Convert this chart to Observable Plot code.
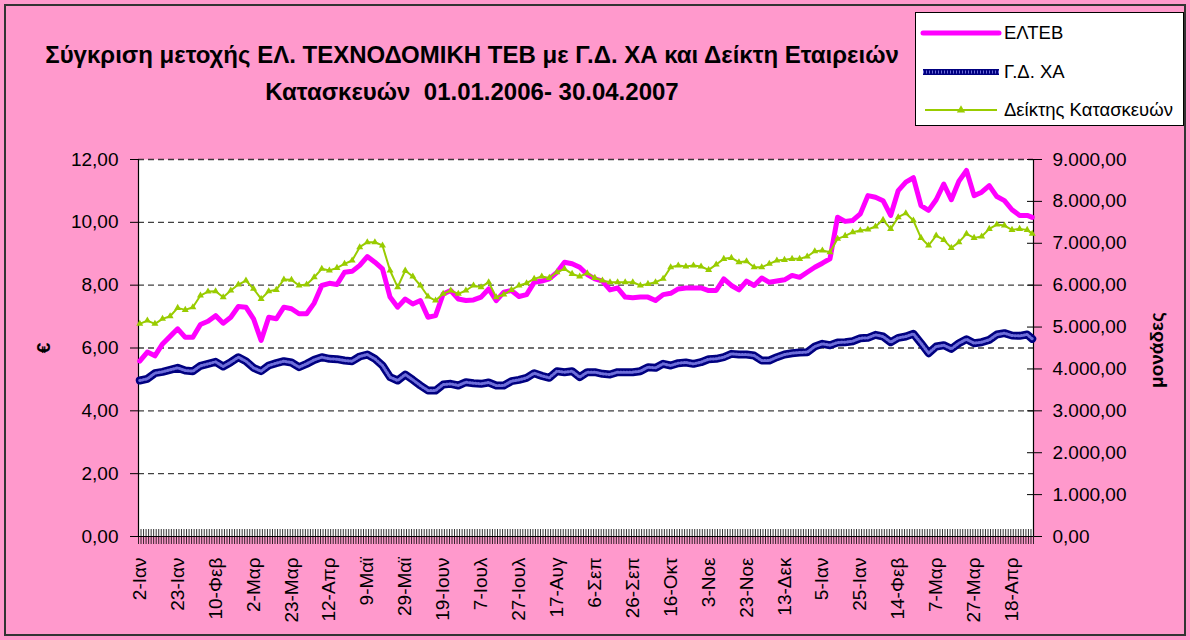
<!DOCTYPE html>
<html><head><meta charset="utf-8">
<script src="https://cdn.jsdelivr.net/npm/d3@7"></script>
<script src="https://cdn.jsdelivr.net/npm/@observablehq/plot@0.6"></script>
<style>
html,body{margin:0;padding:0;background:#FF99CC;}
#wrap{position:relative;width:1190px;height:640px;background:#FF99CC;overflow:hidden;color:#000;}
#frameBorder{position:absolute;left:4px;top:4px;width:1182px;height:632px;border:2px solid #333;box-sizing:border-box;pointer-events:none;}
#chart{position:absolute;left:0;top:0;}
#title{position:absolute;left:0;width:944px;top:36px;text-align:center;font-weight:bold;line-height:37px;white-space:pre;}
#legend{position:absolute;left:915px;top:12px;width:269px;height:114px;background:#fff;border:1px solid #000;box-sizing:border-box;}
.vlab{position:absolute;font-weight:bold;transform:translate(-50%,-50%) rotate(-90deg);white-space:nowrap;}
</style>
</head><body>
<div id="wrap">
  <div id="chart"></div>
  <div id="title">Σύγκριση μετοχής ΕΛ. ΤΕΧΝΟΔΟΜΙΚΗ ΤΕΒ με Γ.Δ. ΧΑ και Δείκτη Εταιρειών
Κατασκευών  01.01.2006- 30.04.2007</div>
  <div class="vlab" id="ylabL" style="left:44px;top:348px;">€</div>
  <div class="vlab" id="ylabR" style="left:1157px;top:350px;">μονάδες</div>
  <div id="legend"></div>
  <div id="frameBorder"></div>
</div>
<script>
// ---------- data ----------
const nDays = 354; // trading days 02.01.2006 - 30.04.2007
const xLabels = ["2-Ιαν","23-Ιαν","10-Φεβ","2-Μαρ","23-Μαρ","12-Απρ","9-Μαϊ","29-Μαϊ","19-Ιουν","7-Ιουλ","27-Ιουλ","17-Αυγ","6-Σεπ","26-Σεπ","16-Οκτ","3-Νοε","23-Νοε","13-Δεκ","5-Ιαν","25-Ιαν","14-Φεβ","7-Μαρ","27-Μαρ","18-Απρ"];
const labelEvery = 15;
const seriesNames = ["ΕΛΤΕΒ","Γ.Δ. ΧΑ","Δείκτης Κατασκευών"];
// sampled trading-day positions (every 3rd session + last)
const sampleDay = [...d3.range(0, 352, 3), 353];
// ΕΛΤΕΒ share price (€, left axis)
const elteb = [
5.58,5.87,5.75,6.13,6.37,6.61,6.34,6.34,6.75,6.85,
7.03,6.79,6.98,7.32,7.30,6.93,6.24,6.98,6.93,7.30,
7.25,7.09,7.09,7.43,7.99,8.06,8.02,8.41,8.44,8.63,
8.91,8.73,8.52,7.62,7.30,7.56,7.40,7.51,6.98,7.03,
7.72,7.83,7.56,7.51,7.53,7.62,7.88,7.51,7.78,7.83,
7.64,7.70,8.09,8.13,8.20,8.41,8.73,8.68,8.57,8.34,
8.20,8.13,7.85,7.91,7.62,7.60,7.62,7.62,7.51,7.70,
7.74,7.88,7.91,7.91,7.91,7.83,7.83,8.20,7.99,7.85,
8.13,7.99,8.23,8.09,8.13,8.17,8.31,8.25,8.41,8.57,
8.70,8.84,10.16,10.03,10.06,10.27,10.85,10.80,10.69,10.22,
11.01,11.28,11.42,10.53,10.38,10.72,11.22,10.72,11.31,11.65,
10.85,10.96,11.17,10.82,10.69,10.40,10.22,10.22,10.16];
// Γ.Δ. ΧΑ (units, right axis)
const gdxa = [
3724,3764,3899,3931,3979,4026,3963,3947,4074,4122,
4169,4058,4162,4281,4185,4026,3947,4082,4138,4185,
4154,4042,4122,4217,4281,4241,4233,4201,4185,4297,
4344,4241,4082,3803,3724,3867,3740,3605,3485,3485,
3628,3644,3605,3684,3660,3644,3676,3605,3605,3708,
3740,3788,3899,3835,3788,3947,3923,3947,3803,3923,
3923,3883,3867,3923,3923,3923,3947,4042,4026,4122,
4082,4138,4154,4122,4162,4233,4241,4281,4360,4344,
4344,4320,4201,4201,4281,4344,4376,4392,4400,4535,
4599,4567,4631,4639,4663,4734,4742,4814,4774,4639,
4742,4774,4838,4615,4376,4535,4567,4480,4615,4710,
4615,4639,4694,4822,4854,4798,4790,4822,4718];
// Δείκτης Κατασκευών (units, right axis)
const kataskeves = [
5077,5155,5077,5196,5259,5458,5410,5474,5753,5848,
5856,5713,5872,6015,6111,5912,5673,5856,5888,6135,
6127,5992,6015,6190,6390,6350,6413,6509,6589,6907,
7026,7026,6947,6350,5952,6350,6206,5992,5729,5633,
5793,5872,5793,5872,5992,5952,6071,5713,5777,5888,
5992,6047,6151,6206,6174,6309,6389,6270,6206,6286,
6174,6111,6071,6071,6071,6071,5992,6031,6071,6151,
6429,6468,6445,6468,6445,6365,6492,6628,6652,6548,
6572,6429,6429,6509,6589,6604,6628,6628,6684,6811,
6827,6787,7106,7177,7265,7304,7328,7400,7559,7344,
7623,7718,7543,7129,6947,7185,7081,6890,7026,7225,
7129,7161,7344,7448,7424,7320,7344,7320,7225];
const leftTicks = [0,2,4,6,8,10,12];
const rightTicks = [0,1000,2000,3000,4000,5000,6000,7000,8000,9000];
const leftMax = 12, rightMax = 9000;

// ---------- fonts ----------
const FAM = '"Liberation Sans",Arial,sans-serif';
const tickFS = 19;
document.getElementById("wrap").style.fontFamily = FAM;
document.getElementById("title").style.fontSize = "24px";
document.getElementById("ylabL").style.fontSize = "19px";
document.getElementById("ylabR").style.fontSize = "19px";

// ---------- build ----------
const ratio = rightMax/leftMax;
const rows = sampleDay.map((d,i)=>({day:d, e:elteb[i], g:gdxa[i]/ratio, k:kataskeves[i]/ratio}));
const locale = d3.formatLocale({decimal:",", thousands:".", grouping:[3], currency:["",""]});
const fmtL = locale.format(",.2f");
const rightPos = rightTicks.map(u=>u/ratio);
const boundaries = d3.range(0, nDays+1).map(i=>i-0.5);
const labelPos = xLabels.map((_,i)=>i*labelEvery);

const chart = Plot.plot({
  width:1190, height:640,
  marginLeft:138, marginRight:157, marginTop:159, marginBottom:104,
  style:{background:"transparent", fontFamily:FAM, fontSize:tickFS+"px", color:"#000", overflow:"visible"},
  x:{domain:[-0.5, nDays-0.5], axis:null},
  y:{domain:[0, leftMax], axis:null},
  marks:[
    Plot.frame({fill:"#fff", stroke:null}),
    Plot.gridY(leftTicks.filter(t=>t>0), {stroke:"#000", strokeOpacity:0.75, strokeWidth:1.3, strokeDasharray:"6,4"}),
    Plot.tickX(boundaries, {x:d=>d, insetTop:370, insetBottom:-8, stroke:"#000", strokeWidth:0.8}),
    Plot.ruleX([-0.5], {stroke:"#000", strokeWidth:1.2}),
    Plot.ruleX([nDays-0.5], {stroke:"#000", strokeWidth:1.2}),
    Plot.ruleY([0], {stroke:"#000", strokeWidth:1.2}),
    Plot.axisY(leftTicks, {anchor:"left", label:null, tickSize:8, tickPadding:12, tickFormat:fmtL, fontSize:tickFS, stroke:"#000"}),
    Plot.axisY(rightPos, {anchor:"right", label:null, tickSize:8, tickPadding:11, tickFormat:d=>fmtL(Math.round(d*ratio)), fontSize:tickFS}),
    Plot.tickY(rightPos, {y:d=>d, insetLeft:889, stroke:"#000"}),
    Plot.axisX(labelPos, {anchor:"bottom", label:null, tickSize:0, tickPadding:21, tickRotate:-90, tickFormat:(d,i)=>xLabels[i], fontSize:tickFS}),
    Plot.line(rows, {x:"day", y:"e", stroke:"#FF00FF", strokeWidth:5, strokeLinejoin:"round", strokeLinecap:"round"}),
    Plot.line(rows, {x:"day", y:"g", stroke:"#000080", strokeWidth:8}),
    Plot.line(rows, {x:"day", y:"g", stroke:"#8a8af0", strokeWidth:3, strokeDasharray:"1,2", strokeOpacity:0.8}),
    Plot.line(rows, {x:"day", y:"k", stroke:"#99CC00", strokeWidth:2}),
    Plot.dot(rows, {x:"day", y:"k", symbol:"triangle", r:2.6, fill:"#99CC00", stroke:null})
  ]
});
document.getElementById("chart").appendChild(chart);

// ---------- legend ----------
const lg = d3.select("#legend").append("svg").attr("width",267).attr("height",112);
const ys = [20,59,97];
lg.append("line").attr("x1",7).attr("x2",83).attr("y1",ys[0]).attr("y2",ys[0]).attr("stroke","#FF00FF").attr("stroke-width",5).attr("stroke-linecap","round");
lg.append("line").attr("x1",7).attr("x2",83).attr("y1",ys[1]).attr("y2",ys[1]).attr("stroke","#000080").attr("stroke-width",6);
lg.append("line").attr("x1",7).attr("x2",83).attr("y1",ys[1]).attr("y2",ys[1]).attr("stroke","#8a8af0").attr("stroke-width",3).attr("stroke-dasharray","1,2").attr("stroke-opacity",0.8);
lg.append("line").attr("x1",9).attr("x2",81).attr("y1",ys[2]).attr("y2",ys[2]).attr("stroke","#99CC00").attr("stroke-width",2);
lg.append("path").attr("d", d3.symbol(d3.symbolTriangle, 30)()).attr("transform",`translate(45,${ys[2]})`).attr("fill","#99CC00");
seriesNames.forEach((n,i)=>{
  lg.append("text").attr("x",88).attr("y",ys[i]).attr("dy","0.35em").attr("font-family",FAM).attr("font-size",18.5).attr("fill","#000").text(n);
});
</script>
</body></html>
